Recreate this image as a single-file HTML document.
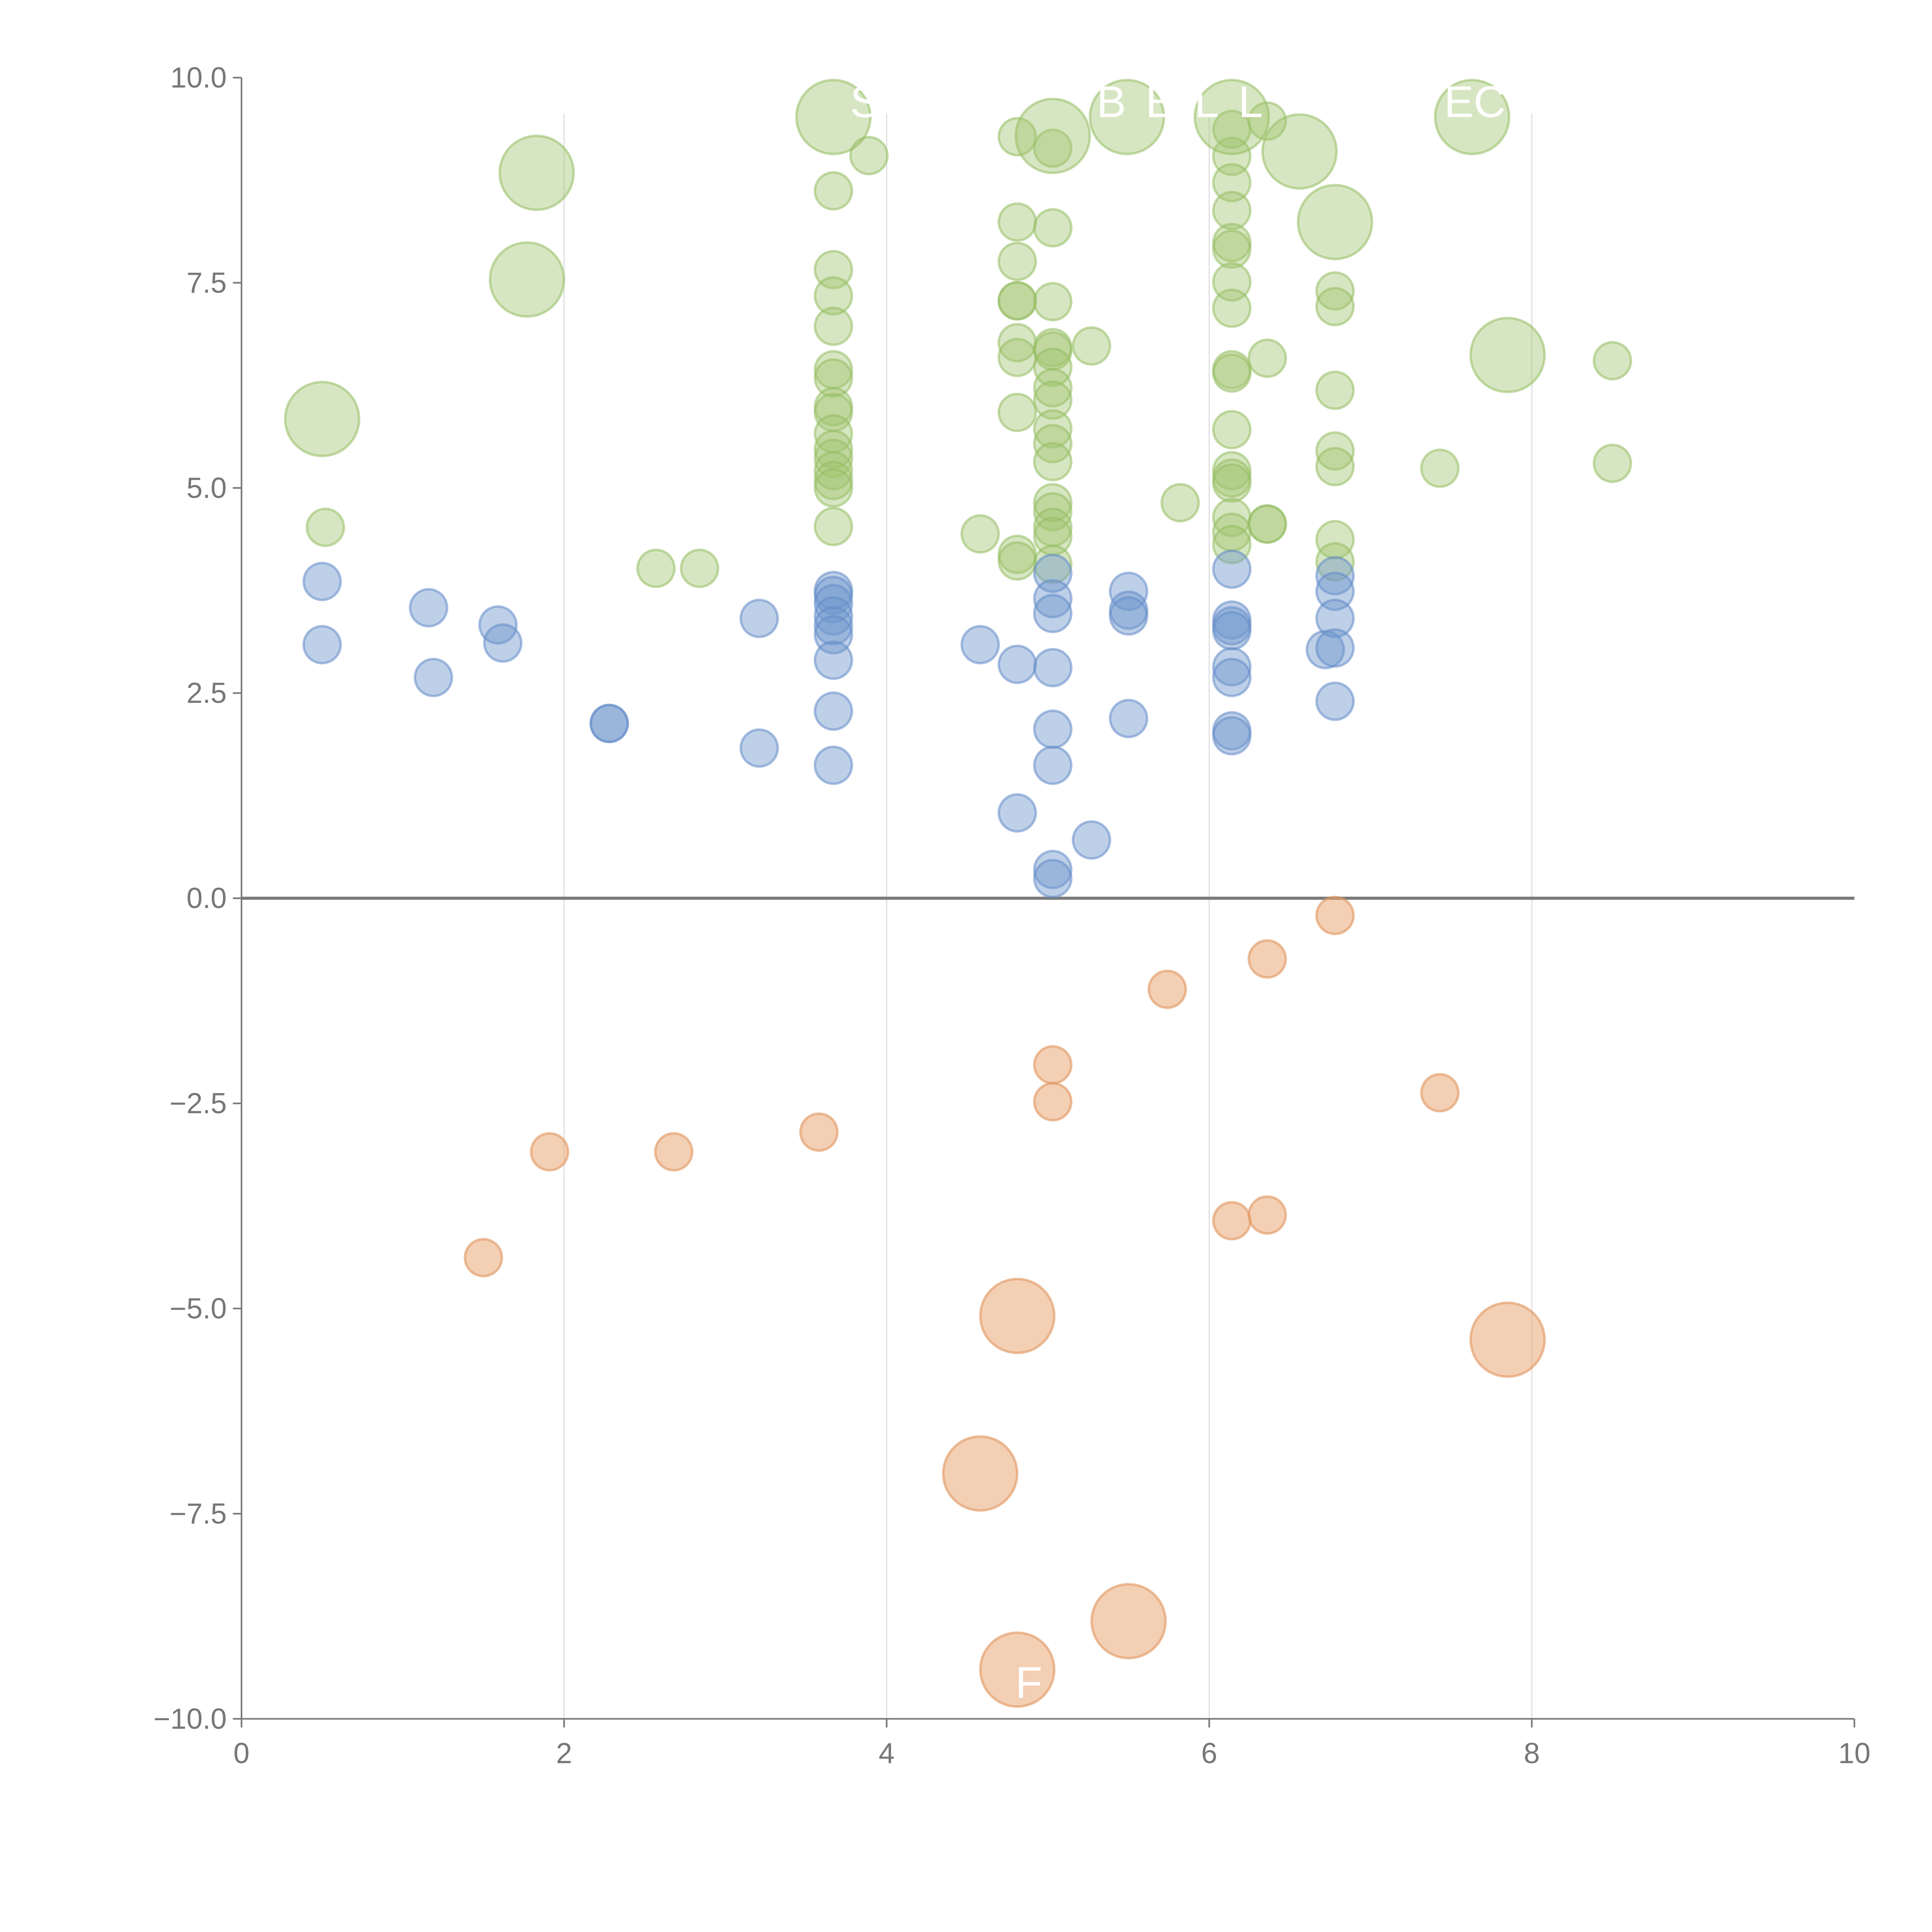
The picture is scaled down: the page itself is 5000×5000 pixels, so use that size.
<!DOCTYPE html>
<html><head><meta charset="utf-8"><style>
html,body{margin:0;padding:0;background:#fff;}
svg{display:block;}
text{font-family:"Liberation Sans",sans-serif;}
</style></head><body>
<svg id="chart" width="5000" height="5000" viewBox="0 0 1568 1568" xmlns="http://www.w3.org/2000/svg">
<g id="grid"></g>
<g id="axes"></g>
<g id="marks"></g>
<g id="labels"></g>
</svg>
<script>
const xTicks=[0,2,4,6,8,10];
const yTicks=[10,7.5,5,2.5,0,-2.5,-5,-7.5,-10];
const yTickLabels=["10.0","7.5","5.0","2.5","0.0","\u22122.5","\u22125.0","\u22127.5","\u221210.0"];
const greenX=[0.52,2.57,2.84,3.89,3.67,3.67,3.67,3.67,3.67,3.67,3.67,3.67,3.67,3.67,3.67,3.67,3.67,3.67,3.67,4.81,4.81,4.81,4.81,4.81,4.81,4.81,4.81,4.81,4.81,4.58,5.03,5.03,5.03,5.03,5.03,5.03,5.03,5.03,5.03,5.03,5.03,5.03,5.03,5.03,5.03,5.03,5.27,5.82,6.14,6.14,6.14,6.14,6.14,6.14,6.14,6.14,6.14,6.14,6.14,6.14,6.14,6.14,6.14,6.14,6.14,6.36,6.36,6.36,6.36,6.78,6.78,6.78,6.78,6.78,6.78,6.78,7.43,8.5,8.5,
0.5,1.83,1.77,3.67,5.03,5.49,6.14,6.56,6.78,7.63,7.85];
const greenY=[4.52,4.02,4.02,9.05,8.62,7.66,7.34,6.97,6.44,6.34,5.99,5.92,5.66,5.47,5.36,5.21,5.09,5.0,4.53,9.28,8.24,7.76,7.28,7.28,6.77,6.59,5.92,4.19,4.11,4.44,9.14,8.17,7.27,6.71,6.67,6.47,6.22,6.07,5.72,5.54,5.32,4.82,4.71,4.52,4.41,4.07,6.73,4.82,9.37,9.04,8.72,8.38,7.99,7.91,7.51,7.19,6.44,6.40,5.71,5.21,5.12,5.06,4.64,4.46,4.31,9.47,6.58,4.56,4.56,7.4,7.21,6.19,5.45,5.26,4.37,4.10,5.24,6.55,5.30,
5.84,8.84,7.54,9.52,9.29,9.52,9.52,9.1,8.24,9.52,6.62];
const greenSize=greenX.map((_,i)=>i<79?1:2);
const blueX=[0.5,0.5,1.16,1.19,1.59,1.62,2.28,2.28,3.21,3.21,3.67,3.67,3.67,3.67,3.67,3.67,3.67,3.67,3.67,4.58,4.81,4.81,5.03,5.03,5.03,5.03,5.03,5.03,5.03,5.03,5.27,5.5,5.5,5.5,5.5,6.14,6.14,6.14,6.14,6.14,6.14,6.14,6.14,6.72,6.78,6.78,6.78,6.78,6.78];
const blueY=[3.86,3.09,3.54,2.69,3.33,3.11,2.13,2.13,3.41,1.83,3.75,3.69,3.59,3.44,3.32,3.21,2.9,2.28,1.62,3.09,2.85,1.04,3.96,3.65,3.47,2.81,2.06,1.62,0.35,0.24,0.71,3.74,3.51,3.44,2.19,4.01,3.39,3.32,3.26,2.82,2.69,2.04,1.98,3.03,3.93,3.74,3.41,3.05,2.40];
const orangeX=[1.5,1.91,2.68,3.58,5.03,5.03,5.74,6.36,6.78,7.43,6.14,6.36,4.81,4.58,5.5,4.81,7.85];
const orangeY=[-4.38,-3.09,-3.09,-2.85,-2.03,-2.48,-1.11,-0.74,-0.21,-2.37,-3.93,-3.86,-5.09,-7.01,-8.81,-9.4,-5.38];
const orangeSize=[1,1,1,1,1,1,1,1,1,1,1,1,2,2,2,2,2];

const NS="http://www.w3.org/2000/svg";
const X0=196,X1=1505,Y0=1395,Y1=63;
const sx=v=>X0+(v-0)/10*(X1-X0);
const sy=v=>Y0-(v+10)/20*(Y0-Y1);
const rad=s=>s===1?15:30;
function mk(tag,attrs,parent){const e=document.createElementNS(NS,tag);for(const k in attrs)e.setAttribute(k,attrs[k]);parent.appendChild(e);return e;}
const grid=document.getElementById('grid'),axes=document.getElementById('axes'),marks=document.getElementById('marks'),labels=document.getElementById('labels');

xTicks.forEach(t=>{
  if(t>0&&t<10){const g=mk('line',{x1:sx(t),x2:sx(t),y1:92,y2:Y0,stroke:'#e0e0e0','stroke-width':1},grid);
  
  }
  const tk=mk('line',{x1:sx(t),x2:sx(t),y1:Y0,y2:Y0+7,stroke:'#777','stroke-width':1.3},axes);
  
  
  const tx=mk('text',{x:sx(t),y:Y0+36,'text-anchor':'middle','font-size':23.5,fill:'#777'},axes);
  tx.textContent=t;
  
  
});
yTicks.forEach((t,i)=>{
  const tk=mk('line',{x1:X0-7,x2:X0,y1:sy(t),y2:sy(t),stroke:'#777','stroke-width':1.3},axes);
  
  
  const tx=mk('text',{x:X0-12,y:sy(t)+8,'text-anchor':'end','font-size':23.5,fill:'#777'},axes);
  tx.textContent=yTickLabels[i];
  
  
});
const ya=mk('line',{x1:X0,x2:X0,y1:Y1,y2:Y0,stroke:'#7a7a7a','stroke-width':1.3},axes);


const xa=mk('line',{x1:X0,x2:X1,y1:Y0,y2:Y0,stroke:'#7a7a7a','stroke-width':1.3},axes);


const zl=mk('line',{x1:X0,x2:X1,y1:sy(0),y2:sy(0),stroke:'#7a7a7a','stroke-width':2.5},axes);



function series(xs,ys,sizes,fill,stroke,name){
  xs.forEach((x,i)=>{
    const c=mk('circle',{cx:sx(x),cy:sy(ys[i]),r:rad(sizes?sizes[i]:1),fill:fill,stroke:stroke,'stroke-width':2},marks);
    
    
  });
}
series(greenX,greenY,greenSize,'rgba(160,195,110,0.42)','rgba(150,190,100,0.55)','green-bubble');
series(blueX,blueY,null,'rgba(110,150,205,0.45)','rgba(100,140,200,0.55)','blue-bubble');
series(orangeX,orangeY,orangeSize,'rgba(232,160,105,0.5)','rgba(225,150,95,0.6)','orange-bubble');

const lbl=[["S",690,95,0],["BELL",890,95,135],["EC",1172,95,0],["F",824,1378,0]];
lbl.forEach(l=>{
  const a={x:l[1],y:l[2],'font-size':36,fill:'#fff'};
  if(l[3])a.textLength=l[3];
  const t=mk('text',a,labels);
  t.textContent=l[0];
  
  
});
</script>
</body></html>
